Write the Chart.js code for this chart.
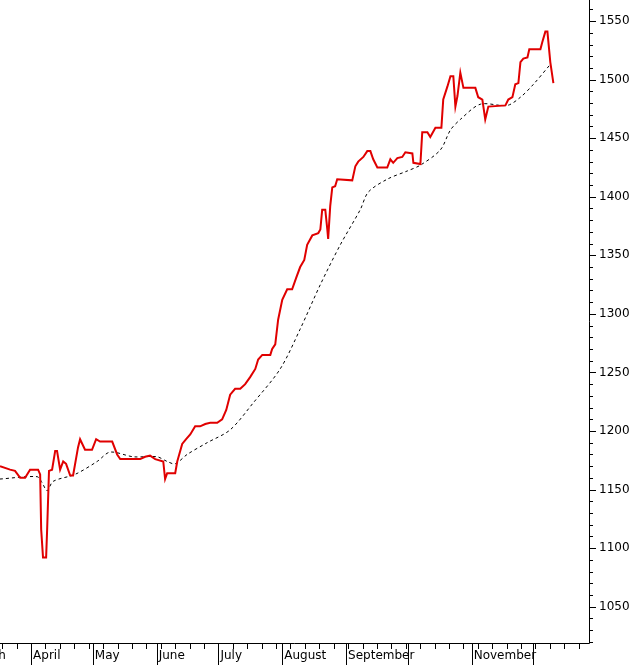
<!DOCTYPE html>
<html>
<head>
<meta charset="utf-8">
<script src="https://cdn.jsdelivr.net/npm/chart.js@4"></script>
<style>
  html, body { margin: 0; padding: 0; background: #fff; }
  #wrap { width: 641px; height: 665px; }
</style>
</head>
<body>
<div id="wrap"><canvas id="chart" width="641" height="665"></canvas></div>
<script>
// days counted from April 1
const priceDays = [-15.1, -10.2, -7.8, -5.3, -2.9, -0.5, 3.4, 4.4, 4.9, 5.8, 7.3, 7.8, 8.7, 10.2, 11.7, 12.6, 14.1, 15.6, 17.0, 19.0, 20.4, 22.8, 23.8, 26.2, 29.6, 31.6, 33.5, 39.4, 41.8, 43.3, 53.0, 55.4, 57.8, 60.3, 64.2, 65.1, 66.1, 70.0, 71.0, 73.4, 75.3, 77.3, 79.7, 82.1, 84.6, 87.0, 90.4, 92.8, 94.8, 96.7, 99.1, 101.6, 104.0, 106.4, 108.9, 110.3, 112.3, 116.2, 117.1, 118.6, 120.0, 122.0, 124.4, 126.8, 128.8, 130.7, 132.7, 134.1, 136.6, 139.5, 140.5, 141.4, 142.9, 143.9, 144.3, 145.3, 146.3, 147.7, 148.7, 156.0, 157.5, 158.9, 161.4, 163.3, 164.8, 166.2, 168.2, 173.0, 174.5, 175.9, 177.9, 180.3, 181.8, 185.2, 185.7, 189.1, 190.0, 192.5, 193.9, 196.4, 199.3, 200.2, 202.2, 203.7, 205.1, 206.1, 207.1, 208.5, 210.0, 215.8, 217.2, 219.2, 219.7, 220.6, 222.1, 230.4, 231.8, 233.8, 235.2, 236.7, 237.7, 239.1, 241.1, 242.0, 247.4, 248.3, 249.8, 250.8, 252.2, 253.7];
const priceValues = [1170, 1167, 1166, 1160, 1160, 1167, 1167, 1163, 1116, 1092, 1092, 1116, 1166, 1167, 1183, 1183, 1167, 1174, 1172, 1162, 1162, 1186, 1193, 1184, 1184, 1193, 1191, 1191, 1180, 1176, 1176, 1178, 1179, 1176, 1174, 1159, 1164, 1164, 1174, 1189, 1193, 1197, 1204, 1204, 1206, 1207, 1207, 1210, 1218, 1231, 1236, 1236, 1240, 1246, 1253, 1261, 1265, 1265, 1270, 1274, 1295, 1312, 1321, 1321, 1331, 1340, 1346, 1359, 1367, 1369, 1372, 1389, 1389, 1372, 1364, 1392, 1408, 1409, 1415, 1414, 1426, 1430, 1434, 1439, 1439, 1432, 1425, 1425, 1432, 1429, 1433, 1434, 1438, 1437, 1429, 1428, 1455, 1455, 1451, 1459, 1459, 1483, 1494, 1503, 1503, 1477, 1486, 1506, 1493, 1493, 1485, 1483, 1477, 1466, 1477, 1478, 1483, 1485, 1496, 1497, 1515, 1518, 1519, 1526, 1526, 1532, 1541, 1541, 1515, 1497];
const avgDays = [-15.1, 2.9, 5.3, 7.8, 10.7, 21.4, 32.1, 38.4, 49.6, 61.2, 66.1, 70.0, 75.8, 85.5, 96.7, 107.9, 121.0, 130.7, 140.5, 150.2, 159.9, 163.8, 173.0, 182.7, 189.1, 198.8, 203.7, 208.5, 218.2, 231.3, 237.7, 244.0, 252.2];
const avgValues = [1159, 1161, 1156, 1149, 1157, 1163, 1174, 1182, 1178, 1178, 1174, 1172, 1180, 1190, 1201, 1224, 1253, 1287, 1325, 1359, 1389, 1404, 1415, 1422, 1427, 1440, 1457, 1466, 1479, 1478, 1485, 1496, 1513];
const monthStarts = [-31, 0, 30, 61, 91, 122, 153, 183, 214, 244];
const monthLabels = ['March', 'April', 'May', 'June', 'July', 'August', 'September', '', 'November', ''];
const yTicks = [1050, 1100, 1150, 1200, 1250, 1300, 1350, 1400, 1450, 1500, 1550];

const FONT = '12px "DejaVu Sans", sans-serif';

// draws the axes, ticks and labels by hand
const axesPlugin = {
  id: 'axes',
  afterDraw(chart) {
    const ctx = chart.ctx;
    const a = chart.chartArea;
    const xs = chart.scales.x, ys = chart.scales.y;
    ctx.save();
    ctx.strokeStyle = '#000';
    ctx.lineWidth = 1;
    ctx.beginPath();
    ctx.moveTo(a.right + 0.5, a.top);
    ctx.lineTo(a.right + 0.5, a.bottom + 0.5);
    ctx.moveTo(a.left, a.bottom + 0.5);
    ctx.lineTo(a.right + 0.5, a.bottom + 0.5);
    // y minor ticks every 10
    for (let v = 1020; v <= 1560; v += 10) {
      const y = Math.round(ys.getPixelForValue(v)) + 0.5;
      const len = v % 50 === 0 ? 7 : 4;
      ctx.moveTo(a.right, y);
      ctx.lineTo(a.right + len, y);
    }
    // x weekly ticks
    for (let d = -14; d < xs.max; d += 7) {
      const x = Math.round(xs.getPixelForValue(d)) + 0.5;
      ctx.moveTo(x, a.bottom);
      ctx.lineTo(x, a.bottom + 6);
    }
    monthStarts.forEach(d => {
      const x = Math.round(xs.getPixelForValue(d)) + 0.5;
      if (x < a.left || x > a.right) return;
      ctx.moveTo(x, a.bottom);
      ctx.lineTo(x, chart.height);
    });
    ctx.stroke();

    ctx.fillStyle = '#000';
    ctx.font = FONT;
    ctx.textBaseline = 'middle';
    ctx.textAlign = 'left';
    yTicks.forEach(v => {
      ctx.fillText(String(v), a.right + 10, ys.getPixelForValue(v));
    });
    monthStarts.forEach((d, i) => {
      const x = xs.getPixelForValue(d);
      ctx.fillText(monthLabels[i], x + 2, a.bottom + 13);
    });
    ctx.restore();
  }
};

new Chart(document.getElementById('chart'), {
  type: 'line',
  data: {
    datasets: [
      {
        data: priceDays.map((d, i) => ({ x: d, y: priceValues[i] })),
        borderColor: '#e00000',
        borderWidth: 2,
        pointRadius: 0,
        tension: 0
      },
      {
        data: avgDays.map((d, i) => ({ x: d, y: avgValues[i] })),
        borderColor: '#000',
        borderWidth: 1,
        borderDash: [3, 3],
        pointRadius: 0,
        tension: 0.3
      }
    ]
  },
  options: {
    responsive: false,
    animation: false,
    layout: { padding: 0 },
    plugins: { legend: { display: false }, tooltip: { enabled: false } },
    scales: {
      x: {
        type: 'linear',
        min: -15.1,
        max: 271,
        grid: { display: false },
        border: { display: false },
        ticks: { display: false },
        afterFit(s) { s.height = 22; }
      },
      y: {
        position: 'right',
        min: 1019,
        max: 1568,
        grid: { display: false },
        border: { display: false },
        ticks: { display: false },
        afterFit(s) { s.width = 52; }
      }
    }
  },
  plugins: [axesPlugin]
});
</script>
</body>
</html>
